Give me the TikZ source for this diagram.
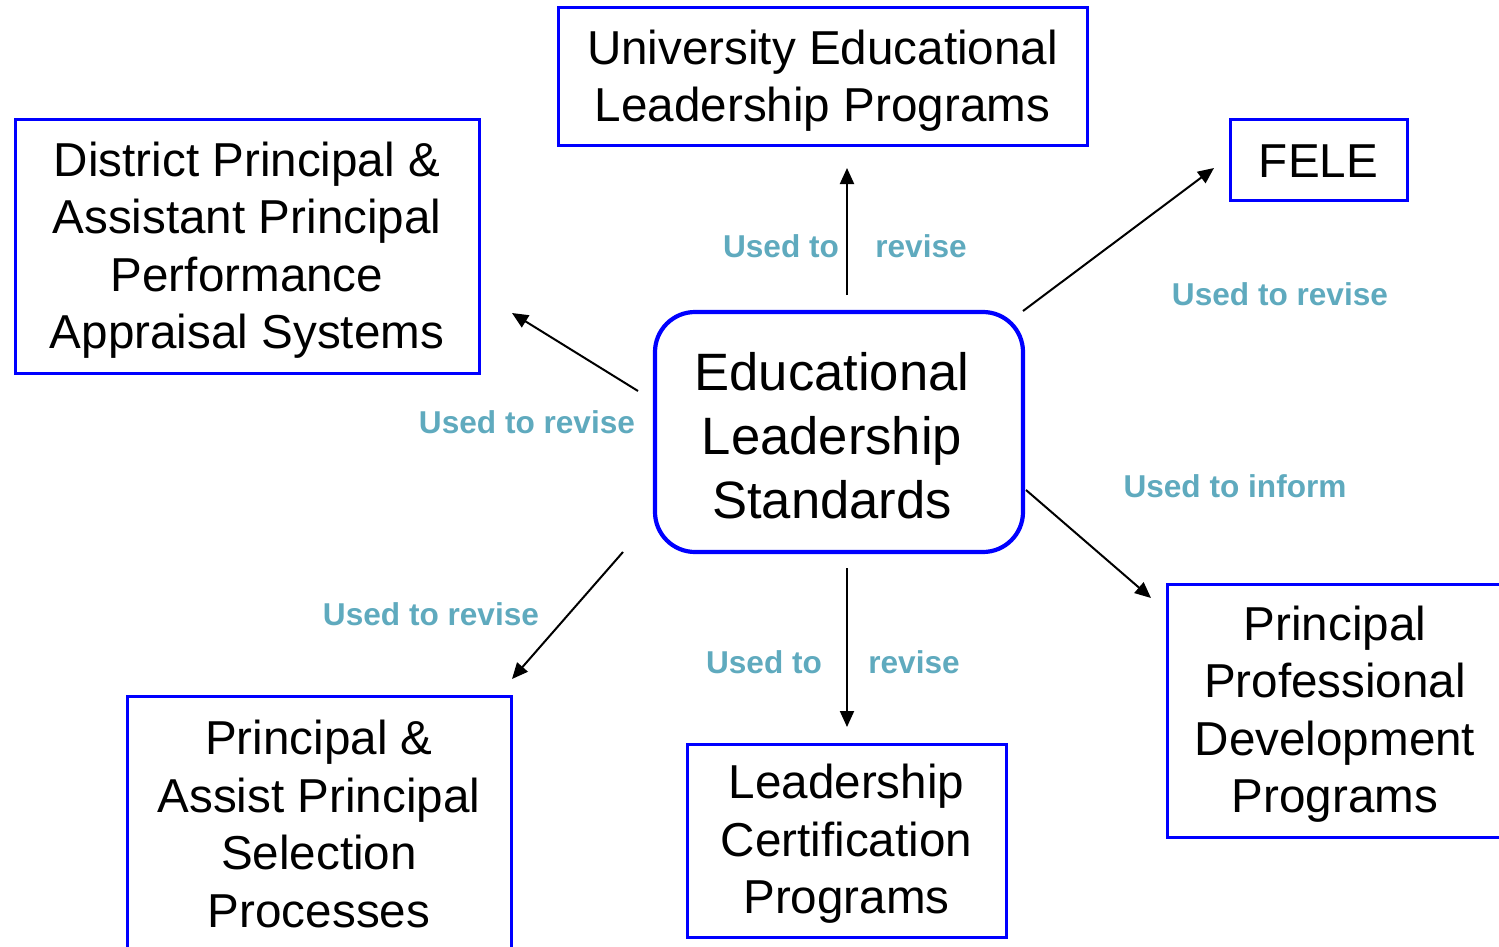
\documentclass[tikz,border=0pt]{standalone}
\usepackage{fontspec}
\setmainfont{Liberation Sans}
\usetikzlibrary{arrows.meta}
\definecolor{boxblue}{RGB}{0,0,255}
\definecolor{labteal}{RGB}{95,170,190}
\begin{document}
\begin{tikzpicture}[x=0.5pt,y=-0.5pt,
  sqbox/.style={draw=boxblue,line width=1.5pt,inner sep=0pt},
  btext/.style={align=center,font=\fontsize{23.8pt}{28.7pt}\selectfont},
  ctext/.style={align=center,font=\fontsize{26.3pt}{32pt}\selectfont},
  lab/.style={text=labteal,font=\fontsize{15.8pt}{18pt}\selectfont\bfseries,inner sep=0pt},
  arr/.style={line width=1pt,-{Triangle[length=8pt,width=7pt]}}]
\useasboundingbox (0,0) rectangle (1499,947);
\begin{scope}
\clip (0,0) rectangle (1499,947);
% boxes
\draw[sqbox] (558,8) rectangle (1087,146);
\node[btext] (univ) at (822.5,80.5) {University Educational\\Leadership Programs};
\draw[sqbox] (15,120) rectangle (479,373);
\node[btext] (dist) at (247,250) {District Principal \&\\Assistant Principal\\Performance\\Appraisal Systems};
\draw[sqbox] (1230,120) rectangle (1407,200);
\node[btext] (fele) at (1318.5,161) {FELE};
\draw[sqbox] (1167,584) rectangle (1503,837);
\node[btext] (ppd) at (1335,714) {Principal\\Professional\\Development\\Programs};
\draw[sqbox] (127,696) rectangle (511,990);
\node[btext] (sel) at (319,824) {Principal \&\\Assist Principal\\Selection\\Processes};
\draw[sqbox] (687,744) rectangle (1006,937);
\node[btext] (cert) at (846.5,844) {Leadership\\Certification\\Programs};
% central
\draw[draw=boxblue,line width=2.1pt,rounded corners=20pt] (655,312) rectangle (1023,552);
\node[ctext] (els) at (832,436) {Educational\\Leadership\\Standards};
% arrow endpoints
\coordinate (a1s) at (847,295); \coordinate (a1e) at (847,168);
\coordinate (a2s) at (1023,311); \coordinate (a2e) at (1214,168);
\coordinate (a3s) at (638,391); \coordinate (a3e) at (512,313);
\coordinate (a4s) at (623,552); \coordinate (a4e) at (512,679);
\coordinate (a5s) at (847,568); \coordinate (a5e) at (847,727);
\coordinate (a6s) at (1026,490); \coordinate (a6e) at (1151,598);
\draw[arr] (a1s) -- (a1e);
\draw[arr] (a2s) -- (a2e);
\draw[arr] (a3s) -- (a3e);
\draw[arr] (a4s) -- (a4e);
\draw[arr] (a5s) -- (a5e);
\draw[arr] (a6s) -- (a6e);
% labels
\node[lab] (l1a) at (781,246) {Used to};
\node[lab] (l1b) at (921,246) {revise};
\node[lab] (l2) at (1280,294) {Used to revise};
\node[lab] (l3) at (527,422) {Used to revise};
\node[lab] (l4) at (1235,486) {Used to inform};
\node[lab] (l5) at (431,614) {Used to revise};
\node[lab] (l6a) at (764,662) {Used to};
\node[lab] (l6b) at (914,662) {revise};
\end{scope}
\end{tikzpicture}
\end{document}
